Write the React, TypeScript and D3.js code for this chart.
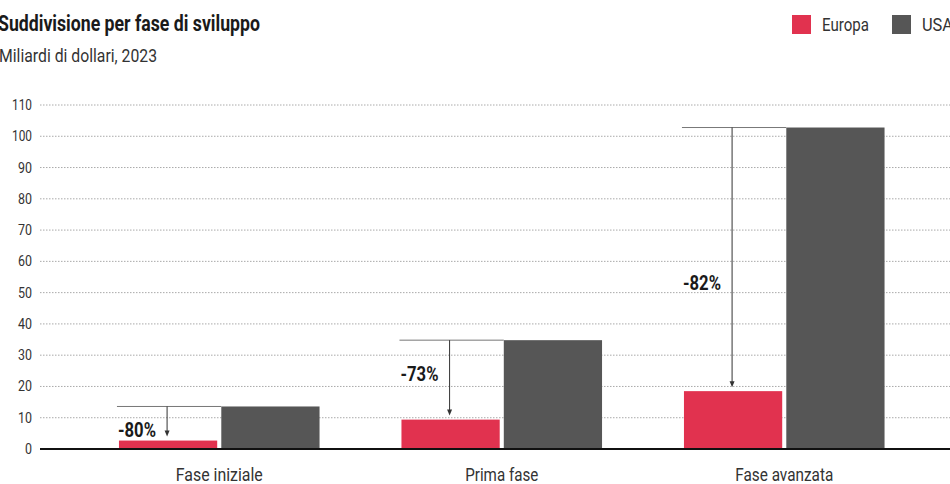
import React from "react";
import * as d3 from "d3";

const categories = ["Fase iniziale", "Prima fase", "Fase avanzata"];
const series = ["Europa", "USA"];
const europaValues = [2.7, 9.4, 18.5];
const usaValues = [13.6, 34.8, 102.8];
const changeLabels = ["-80%", "-73%", "-82%"];
const changeLabelLevels = [6, 24, 53];
const yTicks = [0, 10, 20, 30, 40, 50, 60, 70, 80, 90, 100, 110];
const colors = ["#e1324f", "#565656"];

const W = 950;
const H = 484;
const FONT = "'Roboto', 'Noto Sans', sans-serif";
const categoryLabelWidths = [87, 73, 98];

export default function App() {
  const y = d3.scaleLinear().domain([0, 110]).range([449, 105]);
  const x0 = d3
    .scaleBand<string>()
    .domain(categories)
    .range([78, 925.5])
    .paddingInner(0.29)
    .paddingOuter(0.145);
  const x1 = d3
    .scaleBand<string>()
    .domain(series)
    .range([0, x0.bandwidth()])
    .paddingInner(0.04);
  const data = [europaValues, usaValues];

  return (
    <svg
      width={W}
      height={H}
      style={{ position: "absolute", left: 0, top: 0, background: "#fff" }}
      fontFamily={FONT}
    >
      <text
        x={-2}
        y={31}
        fontSize={22}
        fontWeight="bold"
        fill="#1a1a1a"
        textLength={262}
        lengthAdjust="spacingAndGlyphs"
      >
        Suddivisione per fase di sviluppo
      </text>
      <text
        x={-1}
        y={62}
        fontSize={19}
        fill="#333"
        textLength={158}
        lengthAdjust="spacingAndGlyphs"
      >
        Miliardi di dollari, 2023
      </text>

      {/* legend */}
      {series.map((s, i) => {
        const lx = [792, 892][i];
        return (
          <g key={s}>
            <rect x={lx} y={15} width={19} height={19} fill={colors[i]} />
            <text
              x={lx + 30}
              y={31}
              fontSize={18}
              fill="#333"
              textLength={i === 0 ? 47 : 31}
              lengthAdjust="spacingAndGlyphs"
            >
              {s}
            </text>
          </g>
        );
      })}

      {/* grid */}
      {yTicks.map((t) => (
        <g key={t}>
          {t > 0 && (
            <line
              x1={40}
              x2={W}
              y1={y(t)}
              y2={y(t)}
              stroke="#aaa"
              strokeWidth={1}
              strokeDasharray="1.5,1.5"
            />
          )}
          <text
            x={32}
            y={y(t) + 5}
            fontSize={14}
            textAnchor="end"
            fill="#333"
            textLength={t >= 100 ? 20 : t > 0 ? 14 : 7}
            lengthAdjust="spacingAndGlyphs"
          >
            {t}
          </text>
        </g>
      ))}

      {/* bars */}
      {categories.map((c, ci) => (
        <g key={c} transform={`translate(${x0(c)},0)`}>
          {series.map((s, si) => {
            const v = data[si][ci];
            return (
              <rect
                key={s}
                x={x1(s)}
                y={y(v)}
                width={x1.bandwidth()}
                height={y(0) - y(v)}
                fill={colors[si]}
              />
            );
          })}
        </g>
      ))}

      {/* annotations */}
      {categories.map((c, ci) => {
        const ex = (x0(c) as number) + (x1("Europa") as number);
        const ux = (x0(c) as number) + (x1("USA") as number);
        const ax = ex + x1.bandwidth() / 2 - 1;
        const yu = y(usaValues[ci]);
        const ye = y(europaValues[ci]);
        const tip = ye - 4;
        return (
          <g key={c}>
            <line x1={ex - 2} x2={ux} y1={yu} y2={yu} stroke="#777" strokeWidth={1} />
            <line x1={ax} x2={ax} y1={yu} y2={tip - 5} stroke="#333" strokeWidth={1} />
            <path
              d={`M${ax - 2.5},${tip - 6} L${ax + 2.5},${tip - 6} L${ax},${tip} Z`}
              fill="#333"
            />
            <text
              x={ex - 1}
              y={y(changeLabelLevels[ci]) + 7}
              fontSize={20}
              fontWeight="bold"
              fill="#1a1a1a"
              textLength={38}
              lengthAdjust="spacingAndGlyphs"
            >
              {changeLabels[ci]}
            </text>
          </g>
        );
      })}

      {/* baseline */}
      <line x1={40} x2={W} y1={y(0)} y2={y(0)} stroke="#111" strokeWidth={2} />

      {/* x labels */}
      {categories.map((c, ci) => (
        <text
          key={c}
          x={(x0(c) as number) + x0.bandwidth() / 2}
          y={481}
          fontSize={18}
          textAnchor="middle"
          fill="#333"
          textLength={categoryLabelWidths[ci]}
          lengthAdjust="spacingAndGlyphs"
        >
          {c}
        </text>
      ))}
    </svg>
  );
}
